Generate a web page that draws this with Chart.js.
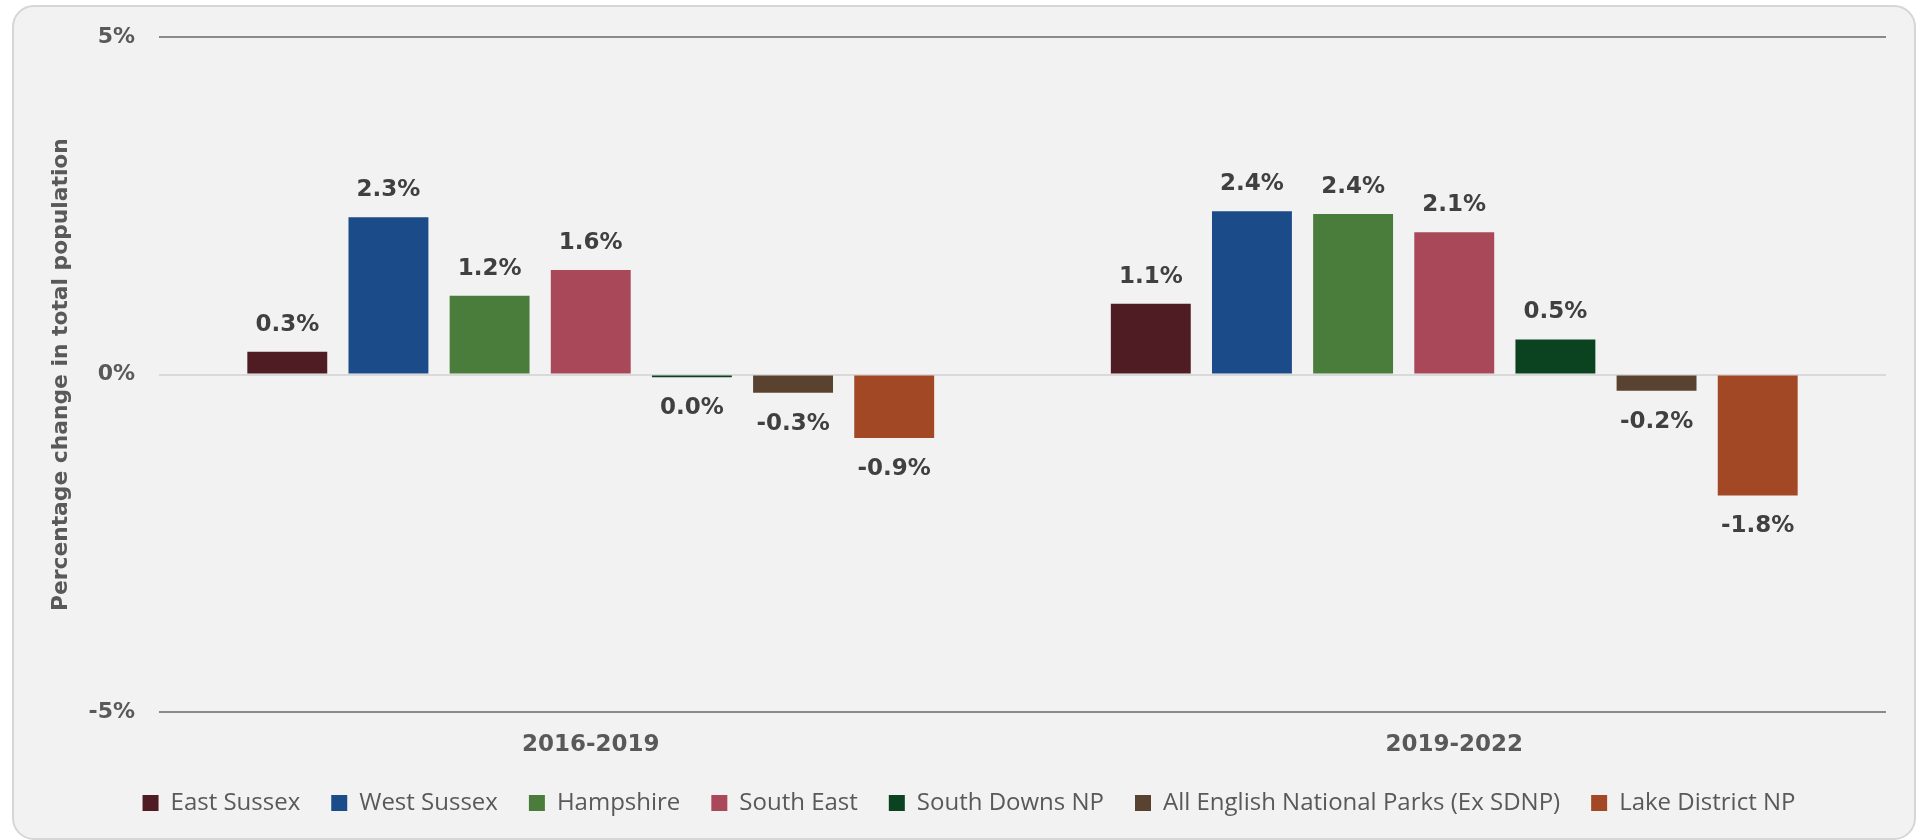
<!DOCTYPE html>
<html>
<head>
<meta charset="utf-8">
<script src="https://cdn.jsdelivr.net/npm/chart.js@4/dist/chart.umd.min.js"></script>
<style>
    html, body { margin: 0; padding: 0; background: #ffffff; width: 1918px; height: 840px; overflow: hidden; }
    .card { position: absolute; left: 12px; top: 5px; width: 1900px; height: 831px; background: #f2f2f2; border: 2px solid #d6d6d6; border-radius: 22px; }
    .wrap { position: absolute; left: 0; top: 0; width: 1918px; height: 840px; }
</style>
</head>
<body>
<div class="card"></div>
<div class="wrap"><canvas id="popChart" width="1918" height="840"></canvas></div>
<script>
    // periods on the x axis
    var periods = ['2016-2019', '2019-2022'];

    // % change in total population, one array per area
    var eastSussex = [0.34, 1.05];
    var westSussex = [2.33, 2.42];
    var hampshire = [1.17, 2.38];
    var southEast = [1.55, 2.11];
    var southDowns = [-0.04, 0.52];
    var allParks = [-0.27, -0.24];
    var lakeDistrict = [-0.94, -1.79];

    var yTicks = [-5, 0, 5];

    var labelFont = 'bold 23px "DejaVu Sans"';

    function fmtPct(v) {
        var s = (Math.round(v * 10) / 10).toFixed(1);
        if (s === '-0.0') s = '0.0';
        return s + '%';
    }

    // value labels above / below each bar
    var barLabels = {
        id: 'barLabels',
        afterDatasetsDraw: function(chart) {
            var ctx = chart.ctx;
            ctx.save();
            ctx.font = labelFont;
            ctx.fillStyle = '#404040';
            ctx.textAlign = 'center';
            ctx.textBaseline = 'middle';
            chart.data.datasets.forEach(function(ds, i) {
                chart.getDatasetMeta(i).data.forEach(function(bar, j) {
                    var v = ds.data[j];
                    var y = v >= 0 ? bar.y - 27 : bar.y + 31;
                    ctx.fillText(fmtPct(v), bar.x, y);
                });
            });
            ctx.restore();
        }
    };

    function makeSet(name, values, colour) {
        return {
            label: name,
            data: values,
            backgroundColor: colour,
            borderWidth: 0,
            categoryPercentage: 0.82,
            barPercentage: 0.79
        };
    }

    var chart = new Chart(document.getElementById('popChart'), {
        type: 'bar',
        data: {
            labels: periods,
            datasets: [
                makeSet('East Sussex', eastSussex, '#4e1c22'),
                makeSet('West Sussex', westSussex, '#1c4b8a'),
                makeSet('Hampshire', hampshire, '#4a7d3b'),
                makeSet('South East', southEast, '#a84859'),
                makeSet('South Downs NP', southDowns, '#0b4220'),
                makeSet('All English National Parks (Ex SDNP)', allParks, '#5a4230'),
                makeSet('Lake District NP', lakeDistrict, '#a34824')
            ]
        },
        options: {
            responsive: false,
            animation: false,
            layout: { padding: { top: 34, right: 6, bottom: 15, left: 26 } },
            plugins: {
                tooltip: { enabled: false },
                legend: {
                    position: 'bottom',
                    labels: {
                        boxWidth: 16,
                        boxHeight: 16,
                        padding: 31,
                        color: '#595959',
                        font: { family: '"Open Sans"', size: 24 }
                    }
                }
            },
            scales: {
                x: {
                    grid: { display: false },
                    border: { display: false },
                    ticks: {
                        padding: 11,
                        color: '#595959',
                        font: { family: '"DejaVu Sans"', size: 23, weight: 'bold' }
                    },
                    afterFit: function(scale) { scale.height = 48; }
                },
                y: {
                    min: -5,
                    max: 5,
                    afterBuildTicks: function(scale) {
                        scale.ticks = yTicks.map(function(v) { return { value: v }; });
                    },
                    border: { display: false },
                    grid: {
                        drawTicks: false,
                        lineWidth: 2,
                        color: function(c) { return c.tick && c.tick.value === 0 ? '#d9d9d9' : '#8a8a8a'; }
                    },
                    ticks: {
                        padding: 24,
                        color: '#595959',
                        font: { family: '"DejaVu Sans"', size: 22, weight: 'bold' },
                        callback: function(v) { return v + '%'; }
                    },
                    title: {
                        display: true,
                        text: 'Percentage change in total population',
                        color: '#595959',
                        padding: { top: 22, bottom: 0 },
                        font: { family: '"DejaVu Sans"', size: 21.8, weight: 'bold' }
                    },
                    afterFit: function(scale) { scale.width = 133; }
                },
                // empty spacer on the right so the legend sits centred on the card
                spacer: {
                    position: 'right',
                    grid: { display: false },
                    border: { display: false },
                    ticks: { display: false },
                    afterFit: function(scale) { scale.width = 26; }
                }
            }
        },
        plugins: [barLabels]
    });
</script>
</body>
</html>
